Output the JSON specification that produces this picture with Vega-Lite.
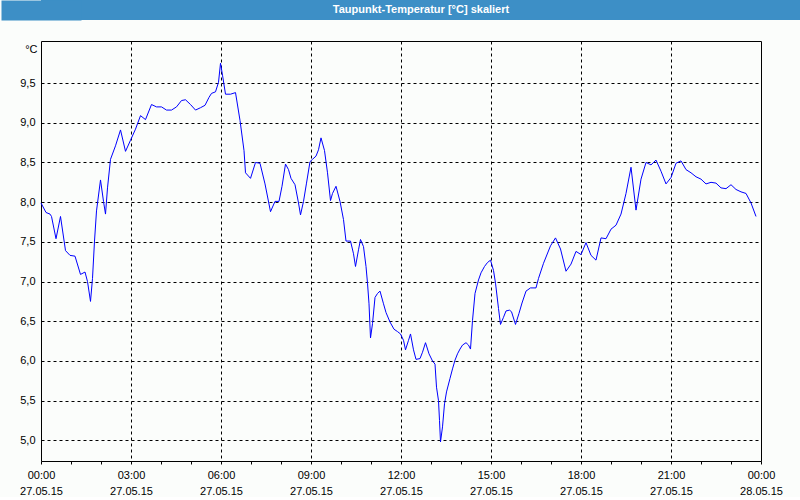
{
  "$schema": "https://vega.github.io/schema/vega-lite/v6.json",
  "padding": 0,
  "background": "#fbfdfb",
  "spacing": 20,
  "config": {"font": "Liberation Sans"},
  "vconcat": [
    {
      "width": 760,
      "height": 20,
      "view": {"fill": "#3d8fc6", "stroke": null},
      "data": {"values": [{"title": "Taupunkt-Temperatur [°C] skaliert"}]},
      "mark": {"type": "text", "color": "white", "font": "Liberation Sans", "fontSize": 11, "fontWeight": "bold", "baseline": "middle"},
      "encoding": {
        "text": {"field": "title"},
        "y": {
          "field": "title",
          "type": "nominal",
          "axis": {"title": null, "labels": false, "ticks": false, "grid": false, "domain": true, "domainColor": "#3d8fc6", "domainWidth": 80, "offset": 0, "minExtent": 40, "maxExtent": 40}
        }
      }
    },
    {
      "width": 720,
      "height": 420,
      "view": {"fill": "#fbfdfb", "stroke": "black", "strokeWidth": 1},
      "data": {"values": [
        {"t": "2015-05-27T00:00", "v": 7.99},
        {"t": "2015-05-27T00:10", "v": 7.87},
        {"t": "2015-05-27T00:18", "v": 7.85},
        {"t": "2015-05-27T00:21", "v": 7.82},
        {"t": "2015-05-27T00:30", "v": 7.54},
        {"t": "2015-05-27T00:39", "v": 7.82},
        {"t": "2015-05-27T00:49", "v": 7.39},
        {"t": "2015-05-27T00:58", "v": 7.33},
        {"t": "2015-05-27T01:08", "v": 7.32},
        {"t": "2015-05-27T01:19", "v": 7.09},
        {"t": "2015-05-27T01:28", "v": 7.12},
        {"t": "2015-05-27T01:33", "v": 7.0},
        {"t": "2015-05-27T01:39", "v": 6.75},
        {"t": "2015-05-27T01:43", "v": 7.04},
        {"t": "2015-05-27T01:47", "v": 7.51},
        {"t": "2015-05-27T01:51", "v": 7.89},
        {"t": "2015-05-27T01:59", "v": 8.28},
        {"t": "2015-05-27T02:05", "v": 8.01},
        {"t": "2015-05-27T02:09", "v": 7.85},
        {"t": "2015-05-27T02:13", "v": 8.18},
        {"t": "2015-05-27T02:19", "v": 8.54},
        {"t": "2015-05-27T02:29", "v": 8.71},
        {"t": "2015-05-27T02:39", "v": 8.91},
        {"t": "2015-05-27T02:49", "v": 8.64},
        {"t": "2015-05-27T02:59", "v": 8.78},
        {"t": "2015-05-27T03:09", "v": 8.92},
        {"t": "2015-05-27T03:19", "v": 9.09},
        {"t": "2015-05-27T03:29", "v": 9.04},
        {"t": "2015-05-27T03:41", "v": 9.23},
        {"t": "2015-05-27T03:51", "v": 9.2},
        {"t": "2015-05-27T04:01", "v": 9.2},
        {"t": "2015-05-27T04:11", "v": 9.16},
        {"t": "2015-05-27T04:21", "v": 9.16},
        {"t": "2015-05-27T04:31", "v": 9.2},
        {"t": "2015-05-27T04:41", "v": 9.28},
        {"t": "2015-05-27T04:49", "v": 9.29},
        {"t": "2015-05-27T04:59", "v": 9.23},
        {"t": "2015-05-27T05:09", "v": 9.16},
        {"t": "2015-05-27T05:19", "v": 9.19},
        {"t": "2015-05-27T05:28", "v": 9.22},
        {"t": "2015-05-27T05:36", "v": 9.32},
        {"t": "2015-05-27T05:41", "v": 9.37},
        {"t": "2015-05-27T05:49", "v": 9.39},
        {"t": "2015-05-27T05:55", "v": 9.51},
        {"t": "2015-05-27T05:59", "v": 9.75},
        {"t": "2015-05-27T06:03", "v": 9.6},
        {"t": "2015-05-27T06:09", "v": 9.36},
        {"t": "2015-05-27T06:19", "v": 9.36},
        {"t": "2015-05-27T06:29", "v": 9.38},
        {"t": "2015-05-27T06:38", "v": 9.03},
        {"t": "2015-05-27T06:46", "v": 8.65},
        {"t": "2015-05-27T06:49", "v": 8.37},
        {"t": "2015-05-27T06:59", "v": 8.3},
        {"t": "2015-05-27T07:09", "v": 8.5},
        {"t": "2015-05-27T07:18", "v": 8.49},
        {"t": "2015-05-27T07:28", "v": 8.23},
        {"t": "2015-05-27T07:39", "v": 7.88},
        {"t": "2015-05-27T07:48", "v": 8.01},
        {"t": "2015-05-27T07:56", "v": 8.01},
        {"t": "2015-05-27T08:02", "v": 8.2},
        {"t": "2015-05-27T08:09", "v": 8.48},
        {"t": "2015-05-27T08:15", "v": 8.41},
        {"t": "2015-05-27T08:20", "v": 8.3},
        {"t": "2015-05-27T08:28", "v": 8.22},
        {"t": "2015-05-27T08:35", "v": 7.99},
        {"t": "2015-05-27T08:39", "v": 7.84},
        {"t": "2015-05-27T08:45", "v": 8.01},
        {"t": "2015-05-27T08:51", "v": 8.24},
        {"t": "2015-05-27T08:58", "v": 8.51},
        {"t": "2015-05-27T09:03", "v": 8.54},
        {"t": "2015-05-27T09:10", "v": 8.58},
        {"t": "2015-05-27T09:15", "v": 8.66},
        {"t": "2015-05-27T09:20", "v": 8.81},
        {"t": "2015-05-27T09:27", "v": 8.65},
        {"t": "2015-05-27T09:33", "v": 8.37},
        {"t": "2015-05-27T09:39", "v": 8.02},
        {"t": "2015-05-27T09:43", "v": 8.11},
        {"t": "2015-05-27T09:50", "v": 8.2},
        {"t": "2015-05-27T09:58", "v": 8.01},
        {"t": "2015-05-27T10:05", "v": 7.78},
        {"t": "2015-05-27T10:10", "v": 7.51},
        {"t": "2015-05-27T10:19", "v": 7.51},
        {"t": "2015-05-27T10:25", "v": 7.35},
        {"t": "2015-05-27T10:29", "v": 7.19},
        {"t": "2015-05-27T10:35", "v": 7.4},
        {"t": "2015-05-27T10:39", "v": 7.53},
        {"t": "2015-05-27T10:45", "v": 7.44},
        {"t": "2015-05-27T10:50", "v": 7.19},
        {"t": "2015-05-27T10:53", "v": 6.98},
        {"t": "2015-05-27T10:56", "v": 6.72},
        {"t": "2015-05-27T10:59", "v": 6.29},
        {"t": "2015-05-27T11:03", "v": 6.47},
        {"t": "2015-05-27T11:08", "v": 6.8},
        {"t": "2015-05-27T11:13", "v": 6.85},
        {"t": "2015-05-27T11:18", "v": 6.88},
        {"t": "2015-05-27T11:25", "v": 6.72},
        {"t": "2015-05-27T11:30", "v": 6.61},
        {"t": "2015-05-27T11:38", "v": 6.49},
        {"t": "2015-05-27T11:46", "v": 6.4},
        {"t": "2015-05-27T11:53", "v": 6.37},
        {"t": "2015-05-27T11:59", "v": 6.34},
        {"t": "2015-05-27T12:05", "v": 6.26},
        {"t": "2015-05-27T12:09", "v": 6.14},
        {"t": "2015-05-27T12:15", "v": 6.26},
        {"t": "2015-05-27T12:19", "v": 6.34},
        {"t": "2015-05-27T12:25", "v": 6.14},
        {"t": "2015-05-27T12:30", "v": 6.02},
        {"t": "2015-05-27T12:38", "v": 6.03},
        {"t": "2015-05-27T12:43", "v": 6.11},
        {"t": "2015-05-27T12:49", "v": 6.23},
        {"t": "2015-05-27T12:56", "v": 6.09},
        {"t": "2015-05-27T13:03", "v": 6.0},
        {"t": "2015-05-27T13:08", "v": 5.96},
        {"t": "2015-05-27T13:11", "v": 5.67},
        {"t": "2015-05-27T13:15", "v": 5.5},
        {"t": "2015-05-27T13:17", "v": 5.25},
        {"t": "2015-05-27T13:19", "v": 4.98},
        {"t": "2015-05-27T13:23", "v": 5.17},
        {"t": "2015-05-27T13:27", "v": 5.46},
        {"t": "2015-05-27T13:31", "v": 5.61},
        {"t": "2015-05-27T13:38", "v": 5.78},
        {"t": "2015-05-27T13:43", "v": 5.9},
        {"t": "2015-05-27T13:48", "v": 6.01},
        {"t": "2015-05-27T13:53", "v": 6.09},
        {"t": "2015-05-27T13:58", "v": 6.15},
        {"t": "2015-05-27T14:03", "v": 6.2},
        {"t": "2015-05-27T14:10", "v": 6.23},
        {"t": "2015-05-27T14:15", "v": 6.2},
        {"t": "2015-05-27T14:19", "v": 6.15},
        {"t": "2015-05-27T14:23", "v": 6.51},
        {"t": "2015-05-27T14:28", "v": 6.85},
        {"t": "2015-05-27T14:35", "v": 7.02},
        {"t": "2015-05-27T14:40", "v": 7.11},
        {"t": "2015-05-27T14:47", "v": 7.19},
        {"t": "2015-05-27T14:53", "v": 7.24},
        {"t": "2015-05-27T14:59", "v": 7.27},
        {"t": "2015-05-27T15:05", "v": 7.14},
        {"t": "2015-05-27T15:09", "v": 6.98},
        {"t": "2015-05-27T15:15", "v": 6.66},
        {"t": "2015-05-27T15:19", "v": 6.46},
        {"t": "2015-05-27T15:25", "v": 6.55},
        {"t": "2015-05-27T15:30", "v": 6.63},
        {"t": "2015-05-27T15:37", "v": 6.64},
        {"t": "2015-05-27T15:41", "v": 6.62},
        {"t": "2015-05-27T15:49", "v": 6.46},
        {"t": "2015-05-27T15:56", "v": 6.6},
        {"t": "2015-05-27T16:02", "v": 6.73},
        {"t": "2015-05-27T16:10", "v": 6.88},
        {"t": "2015-05-27T16:19", "v": 6.92},
        {"t": "2015-05-27T16:30", "v": 6.92},
        {"t": "2015-05-27T16:35", "v": 7.04},
        {"t": "2015-05-27T16:45", "v": 7.23},
        {"t": "2015-05-27T16:59", "v": 7.45},
        {"t": "2015-05-27T17:09", "v": 7.55},
        {"t": "2015-05-27T17:19", "v": 7.41},
        {"t": "2015-05-27T17:30", "v": 7.13},
        {"t": "2015-05-27T17:40", "v": 7.22},
        {"t": "2015-05-27T17:50", "v": 7.38},
        {"t": "2015-05-27T18:00", "v": 7.34},
        {"t": "2015-05-27T18:10", "v": 7.49},
        {"t": "2015-05-27T18:20", "v": 7.33},
        {"t": "2015-05-27T18:30", "v": 7.27},
        {"t": "2015-05-27T18:40", "v": 7.55},
        {"t": "2015-05-27T18:50", "v": 7.54},
        {"t": "2015-05-27T19:00", "v": 7.66},
        {"t": "2015-05-27T19:10", "v": 7.71},
        {"t": "2015-05-27T19:20", "v": 7.85},
        {"t": "2015-05-27T19:30", "v": 8.11},
        {"t": "2015-05-27T19:40", "v": 8.44},
        {"t": "2015-05-27T19:50", "v": 7.9},
        {"t": "2015-05-27T20:00", "v": 8.29},
        {"t": "2015-05-27T20:10", "v": 8.5},
        {"t": "2015-05-27T20:20", "v": 8.47},
        {"t": "2015-05-27T20:30", "v": 8.53},
        {"t": "2015-05-27T20:40", "v": 8.39},
        {"t": "2015-05-27T20:50", "v": 8.23},
        {"t": "2015-05-27T21:00", "v": 8.31},
        {"t": "2015-05-27T21:10", "v": 8.49},
        {"t": "2015-05-27T21:20", "v": 8.52},
        {"t": "2015-05-27T21:30", "v": 8.41},
        {"t": "2015-05-27T21:40", "v": 8.37},
        {"t": "2015-05-27T21:50", "v": 8.32},
        {"t": "2015-05-27T22:00", "v": 8.29},
        {"t": "2015-05-27T22:10", "v": 8.23},
        {"t": "2015-05-27T22:20", "v": 8.25},
        {"t": "2015-05-27T22:30", "v": 8.24},
        {"t": "2015-05-27T22:40", "v": 8.18},
        {"t": "2015-05-27T22:50", "v": 8.17},
        {"t": "2015-05-27T23:00", "v": 8.22},
        {"t": "2015-05-27T23:10", "v": 8.16},
        {"t": "2015-05-27T23:20", "v": 8.13},
        {"t": "2015-05-27T23:30", "v": 8.11},
        {"t": "2015-05-27T23:40", "v": 7.99},
        {"t": "2015-05-27T23:50", "v": 7.82}
      ]},
      "encoding": {
        "y": {
          "field": "v",
          "type": "quantitative",
          "scale": {"domain": [4.74, 10.03], "nice": false, "zero": false},
          "axis": {
            "values": [5, 5.5, 6, 6.5, 7, 7.5, 8, 8.5, 9, 9.5],
            "labelExpr": "replace(format(datum.value, '.1f'), '.', ',')",
            "grid": true,
            "gridColor": "black",
            "gridDash": [3, 3],
            "gridWidth": 1,
            "ticks": false,
            "domain": false,
            "labelPadding": 6,
            "labelColor": "black",
            "labelFont": "Liberation Sans",
            "labelFontSize": 11,
            "minExtent": 40,
            "maxExtent": 40,
            "title": "°C",
            "titleAngle": 0,
            "titleAlign": "right",
            "titleBaseline": "top",
            "titleX": -4,
            "titleY": 2,
            "titleFont": "Liberation Sans",
            "titleFontWeight": "normal",
            "titleFontSize": 11,
            "titleColor": "black"
          }
        }
      },
      "layer": [
        {
          "mark": {"type": "line", "strokeOpacity": 0},
          "encoding": {
            "x": {
              "field": "t",
              "type": "temporal",
              "scale": {"domain": [{"year": 2015, "month": 5, "date": 27, "hours": 0}, {"year": 2015, "month": 5, "date": 28, "hours": 0}]},
              "axis": {
                "orient": "bottom",
                "title": null,
                "values": [
                  {"year": 2015, "month": 5, "date": 27, "hours": 3},
                  {"year": 2015, "month": 5, "date": 27, "hours": 6},
                  {"year": 2015, "month": 5, "date": 27, "hours": 9},
                  {"year": 2015, "month": 5, "date": 27, "hours": 12},
                  {"year": 2015, "month": 5, "date": 27, "hours": 15},
                  {"year": 2015, "month": 5, "date": 27, "hours": 18},
                  {"year": 2015, "month": 5, "date": 27, "hours": 21}
                ],
                "labels": false,
                "ticks": false,
                "domain": false,
                "grid": true,
                "gridColor": "black",
                "gridDash": [3, 3],
                "gridWidth": 1
              }
            }
          }
        },
        {
          "mark": {"type": "line", "color": "#0000ff", "strokeWidth": 1},
          "encoding": {
            "x": {
              "field": "t",
              "type": "temporal",
              "axis": {
                "orient": "bottom",
                "title": null,
                "tickCount": 24,
                "labelExpr": "hours(datum.value) % 3 == 0 ? [timeFormat(datum.value, '%H:%M'), timeFormat(datum.value, '%d.%m.%y')] : ''",
                "labelOverlap": false,
                "labelFlush": false,
                "labelBound": false,
                "grid": false,
                "ticks": true,
                "tickSize": 3,
                "tickColor": "black",
                "tickWidth": 1,
                "domain": false,
                "labelPadding": 5,
                "labelLineHeight": 16,
                "labelColor": "black",
                "labelFont": "Liberation Sans",
                "labelFontSize": 11
              }
            }
          }
        }
      ],
      "resolve": {"axis": {"x": "independent"}}
    }
  ]
}
